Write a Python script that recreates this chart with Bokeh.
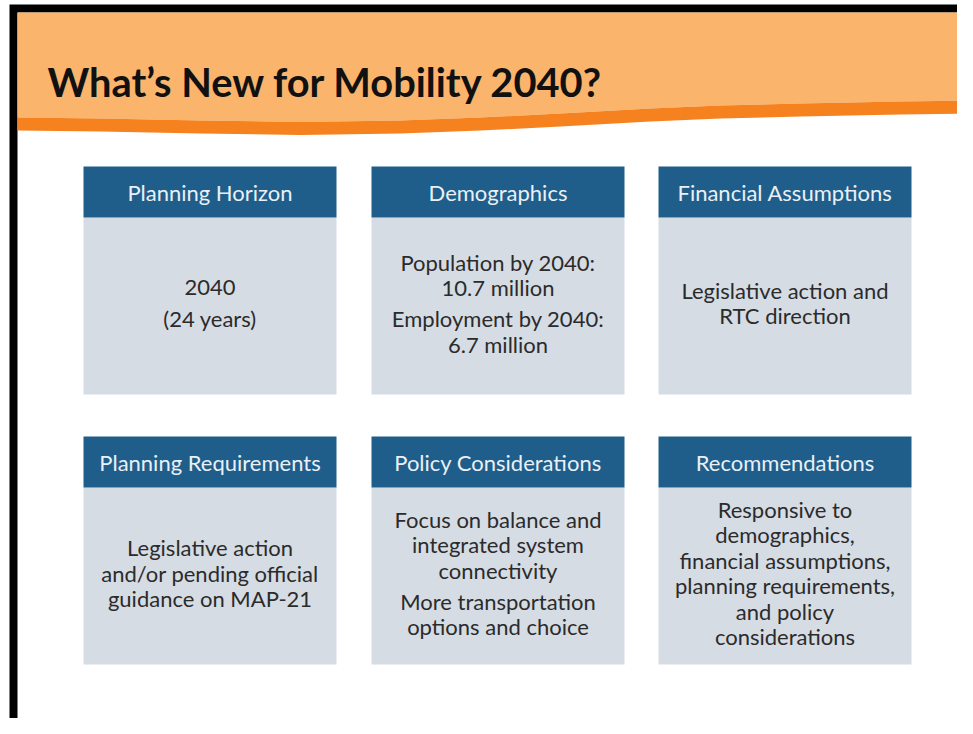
from bokeh.plotting import figure
from bokeh.models import Range1d
from bokeh.core.properties import value
from bokeh.embed import file_html
from bokeh.resources import INLINE

# ---- content ----
TITLE = "What\u2019s New for Mobility 2040?"

HEADERS = [
    "Planning Horizon", "Demographics", "Financial Assumptions",
    "Planning Requirements", "Policy Considerations", "Recommendations",
]

BODIES = [
    [["2040"], ["(24 years)"]],
    [["Population by 2040:", "10.7 million"], ["Employment by 2040:", "6.7 million"]],
    [["Legislative action and", "RTC direction"]],
    [["Legislative action", "and/or pending official", "guidance on MAP-21"]],
    [["Focus on balance and", "integrated system", "connectivity"],
     ["More transportation", "options and choice"]],
    [["Responsive to", "demographics,", "financial assumptions,",
      "planning requirements,", "and policy", "considerations"]],
]

# ---- layout (screen pixel coordinates) ----
COL_LEFT = [83, 371, 658]
BOX_W = 253
ROW_TOP = [166, 436]
HEAD_H = 51
BODY_H = 177
LINE_H = 25.5
PARA_GAP = 5.5

WAVE_X = [17, 100, 200, 300, 400, 480, 560, 650, 720, 800, 900, 975]
WAVE_TOP = [117, 118, 120, 121.5, 120, 117, 113, 108, 105, 103, 101, 100]
STRIPE = 13

LIGHT_ORANGE = "#FAB46C"
DARK_ORANGE = "#F5821E"
HEAD_BLUE = "#1F5E8A"
BODY_GRAY = "#D6DCE4"
HEAD_TEXT = "#EAF0F5"
BODY_TEXT = "#2B2B2B"
FONT = value("Lato")

p = figure(width=957, height=718, x_range=Range1d(0, 957), y_range=Range1d(718, 0),
           output_backend="svg", toolbar_location=None, min_border=0)
p.axis.visible = False
p.grid.visible = False
p.outline_line_color = None
p.background_fill_color = "white"
p.border_fill_color = "white"

# frame
p.quad(left=[9], right=[980], top=[4], bottom=[740], fill_color="black", line_color=None)
p.quad(left=[17], right=[980], top=[12], bottom=[740], fill_color="white", line_color=None)

# orange header band
ox = [17] + WAVE_X + [975]
oy = [12] + WAVE_TOP + [12]
p.patch(ox, oy, fill_color=LIGHT_ORANGE, line_color=None)
sx = WAVE_X + WAVE_X[::-1]
sy = WAVE_TOP + [t + STRIPE for t in WAVE_TOP][::-1]
p.patch(sx, sy, fill_color=DARK_ORANGE, line_color=None)

# title
p.text(x=[47], y=[81], text=[TITLE], text_font=FONT, text_font_size="39.8px",
       text_font_style="bold", text_color="#111111", text_align="left",
       text_baseline="alphabetic")

# boxes
hl, hr, ht, hb = [], [], [], []
bl, br, bt, bb = [], [], [], []
hx, hy, htxt = [], [], []
tx, ty, ttxt = [], [], []
for i, (head, body) in enumerate(zip(HEADERS, BODIES)):
    r, c = divmod(i, 3)
    left = COL_LEFT[c]
    top = ROW_TOP[r]
    hl.append(left); hr.append(left + BOX_W); ht.append(top); hb.append(top + HEAD_H)
    bl.append(left); br.append(left + BOX_W); bt.append(top + HEAD_H); bb.append(top + HEAD_H + BODY_H)
    cx = left + BOX_W / 2
    hx.append(cx); hy.append(top + HEAD_H / 2 + 0.5); htxt.append(head)
    offs, lines = [], []
    y = 0.0
    for pi, para in enumerate(body):
        if pi > 0:
            y += PARA_GAP
        for line in para:
            offs.append(y)
            lines.append(line)
            y += LINE_H
    total = offs[-1]
    center = top + HEAD_H + BODY_H / 2 - 3
    for o, line in zip(offs, lines):
        tx.append(cx); ty.append(center - total / 2 + o); ttxt.append(line)

p.quad(left=bl, right=br, top=bt, bottom=bb, fill_color=BODY_GRAY, line_color=None)
p.quad(left=hl, right=hr, top=ht, bottom=hb, fill_color=HEAD_BLUE, line_color=None)
p.text(x=hx, y=hy, text=htxt, text_font=FONT, text_font_size="22px",
       text_color=HEAD_TEXT, text_align="center", text_baseline="middle")
p.text(x=tx, y=ty, text=ttxt, text_font=FONT, text_font_size="22px",
       text_color=BODY_TEXT, text_align="center", text_baseline="middle")

open("out.html", "w").write(file_html(p, INLINE))
